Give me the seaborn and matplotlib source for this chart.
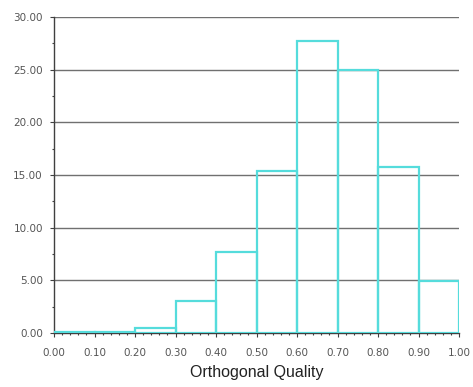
import numpy as np
import pandas as pd
import seaborn as sns
import matplotlib.pyplot as plt
from matplotlib.ticker import MultipleLocator, FormatStrFormatter

bin_edges = [0.0, 0.1, 0.2, 0.3, 0.4, 0.5, 0.6, 0.7, 0.8, 0.9, 1.0]
bin_centers = [0.05, 0.15, 0.25, 0.35, 0.45, 0.55, 0.65, 0.75, 0.85, 0.95]
percent = [0.1, 0.05, 0.5, 3.0, 7.7, 15.4, 27.7, 25.0, 15.8, 4.9]

df = pd.DataFrame({"quality": bin_centers, "pct": percent})

sns.set_style("white")
plt.rcParams['font.family'] = ['Liberation Sans', 'DejaVu Sans']

fig = plt.figure(figsize=(4.73, 3.87), dpi=100)
ax = fig.add_axes([54/473, 1-333/387, (459-54)/473, (333-17)/387])

sns.histplot(data=df, x="quality", weights="pct", bins=bin_edges, fill=False,
             element="bars", color="#55dcdc", linewidth=1.6, ax=ax, zorder=3)

ax.set_xlim(0, 1.0)
ax.set_ylim(0, 30)
ax.xaxis.set_major_locator(MultipleLocator(0.1))
ax.xaxis.set_minor_locator(MultipleLocator(0.02))
ax.yaxis.set_major_locator(MultipleLocator(5))
ax.yaxis.set_minor_locator(MultipleLocator(2.5))
ax.xaxis.set_major_formatter(FormatStrFormatter('%.2f'))
ax.yaxis.set_major_formatter(FormatStrFormatter('%.2f'))
ax.grid(axis='y', which='major', color='#707070', linewidth=1.0, zorder=1)
ax.set_axisbelow(True)

for s in ['top', 'right']:
    ax.spines[s].set_visible(False)
for s in ['left', 'bottom']:
    ax.spines[s].set_color('#404040')
    ax.spines[s].set_linewidth(1.0)

ax.tick_params(axis='both', which='major', direction='out', length=3, width=0.8,
               color='#404040', labelsize=7.5, labelcolor='#555555')
ax.tick_params(axis='x', which='major', pad=8)
ax.tick_params(axis='y', which='major', pad=5)
ax.tick_params(axis='both', which='minor', direction='out', length=1.5, width=0.8,
               color='#404040')
ax.tick_params(axis='x', which='both', bottom=True)
ax.tick_params(axis='y', which='both', left=True)

for lab in ax.get_xticklabels() + ax.get_yticklabels():
    lab.set_family(['DejaVu Sans'])

ax.set_ylabel("")
ax.set_xlabel("Orthogonal Quality", fontsize=11.5, color='#222222', labelpad=5)

fig.savefig("out.png", dpi=100, facecolor='white')
